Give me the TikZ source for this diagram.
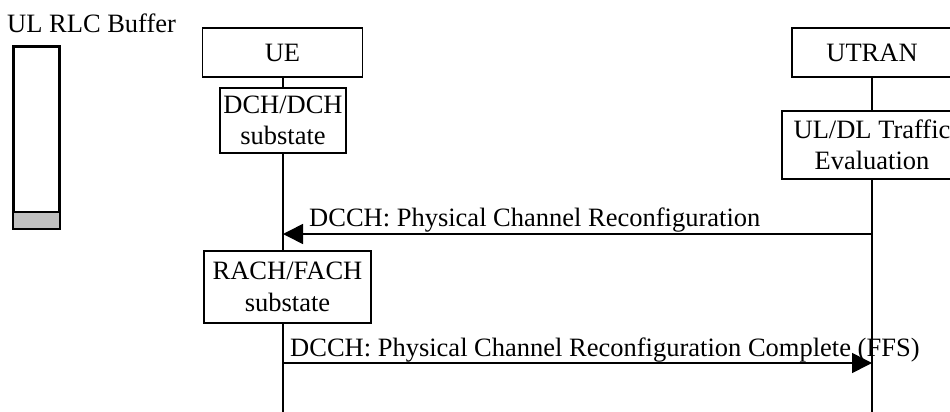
\documentclass[tikz,border=0pt]{standalone}
\usepackage{fontspec}
\setmainfont{Liberation Serif}
\usetikzlibrary{arrows.meta}
\begin{document}
\begin{tikzpicture}[x=1pt,y=-1pt,
  every node/.style={font=\fontsize{26.5}{31.5}\selectfont},
  box/.style={draw,line width=1.6pt,fill=white,inner sep=0pt,align=center},
  life/.style={line width=1.6pt},
  msg/.style={line width=1.6pt,-{Triangle[length=20pt,width=20pt]}},
  lbl/.style={anchor=base west,inner sep=0pt}]
\useasboundingbox (0,0) rectangle (950,412);
% buffer
\node[lbl] (buftxt) at (7,33) {UL RLC Buffer};
\node[draw,line width=1.6pt,minimum width=45pt,minimum height=181pt,inner sep=0pt] (buf) at (36.5,137.5) {};
\fill[fill={rgb,255:red,192;green,192;blue,192}] (14,212) rectangle (59,228);
\draw[line width=1.6pt] (14,212) -- (59,212);
\draw[line width=1.6pt] (buf.north west) rectangle (buf.south east);
% UE
\node[box,minimum width=160pt,minimum height=49pt] (ue) at (282.5,52.5) {UE};
\node[box,minimum width=126pt,minimum height=65pt] (dch) at (283,120.5) {DCH/DCH\\substate};
\node[box,minimum width=167pt,minimum height=72pt] (rach) at (287.5,287) {RACH/FACH\\substate};
\coordinate (ueend) at (283,412);
% UTRAN
\node[box,minimum width=160pt,minimum height=49pt] (utran) at (872,52.5) {UTRAN};
\node[box,minimum width=180pt,minimum height=68pt] (eval) at (872,145) {UL/DL Traffic\\Evaluation};
\coordinate (utend) at (872,412);
% lifelines
\draw[life] (ue.south -| dch) -- (dch.north);
\draw[life] (dch.south) -- (dch.south |- rach.north);
\draw[life] (dch.south |- rach.south) -- (ueend);
\draw[life] (utran.south) -- (eval.north);
\draw[life] (eval.south) -- (utend);
% messages
\coordinate (m1) at (0,234);
\coordinate (m2) at (0,363);
\draw[msg] (utend |- m1) -- (ueend |- m1);
\node[lbl] (l1) at (309,226) {DCCH: Physical Channel Reconfiguration};
\draw[msg] (ueend |- m2) -- (utend |- m2);
\node[lbl] (l2) at (290,356) {DCCH: Physical Channel Reconfiguration Complete (FFS)};
\end{tikzpicture}
\end{document}
